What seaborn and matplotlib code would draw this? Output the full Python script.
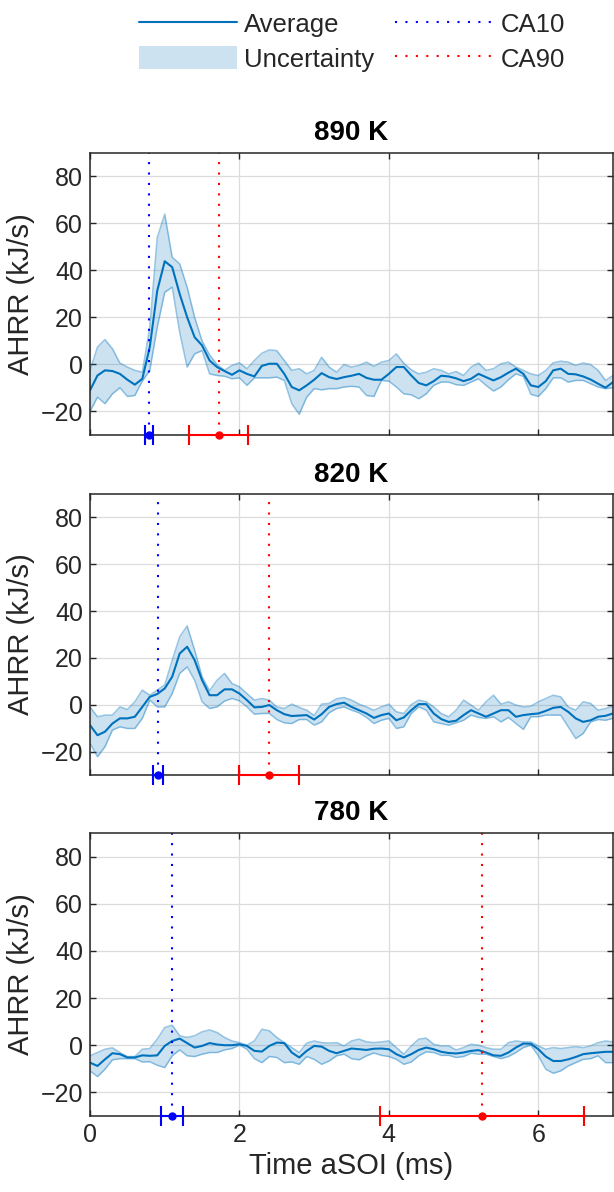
import numpy as np
import matplotlib
matplotlib.use('Agg')
import matplotlib.pyplot as plt
import seaborn as sns
from matplotlib.lines import Line2D
from matplotlib.patches import Patch

# sample times (ms after start of injection)
time_ms = np.round(np.arange(71) * 0.1, 1)

panels = ['890 K', '820 K', '780 K']

avg_890 = [-11.0, -4.7, -2.5, -2.8, -4.0, -6.5, -8.6, -6.1, 7.4, 31.4,
           43.9, 41.4, 30.0, 20.1, 11.6, 8.1, 1.7, -1.1, -2.8, -4.4,
           -2.5, -4.0, -5.1, -0.6, 0.3, 0.3, -4.0, -9.6, -11.0, -8.9,
           -6.5, -3.7, -5.4, -6.2, -5.4, -4.8, -4.0, -5.7, -6.5, -6.5,
           -4.0, -1.1, -1.1, -4.7, -7.9, -8.9, -7.1, -4.8, -5.1, -5.9,
           -7.1, -6.1, -4.0, -5.4, -6.8, -5.4, -3.5, -1.8, -4.0, -8.9,
           -9.6, -7.1, -2.5, -1.8, -4.0, -4.2, -5.1, -6.4, -8.2, -9.9,
           -7.5]
hi_890 = [-2.5, 7.4, 10.6, 6.7, 0.6, -1.1, -2.5, -3.3, 15.9, 54.0,
          64.0, 45.6, 42.8, 32.9, 20.1, 10.0, 4.1, 0.0, -2.5, -0.4,
          0.7, -1.8, 1.7, 4.8, 6.2, 5.9, 1.7, -2.5, -1.8, -4.0,
          -2.5, 3.1, -1.1, -3.3, 0.0, -1.1, -0.4, 1.0, -0.8, 1.0,
          1.7, 4.5, 0.5, -2.3, -4.0, -3.3, -1.8, -2.5, -4.0, -3.0,
          -4.7, -1.1, 0.6, -2.5, -1.8, 0.3, 1.0, -1.1, -2.5, -4.0,
          -4.7, -2.5, 0.7, 1.4, 1.0, -0.4, 0.6, 0.0, -2.5, -6.8,
          -4.7]
lo_890 = [-20.0, -13.9, -16.7, -12.5, -9.9, -13.6, -13.2, -7.1, -2.5, 15.9,
          30.7, 32.9, 13.7, -1.1, 4.5, 5.9, -4.0, -4.7, -5.0, -6.1,
          -5.7, -8.9, -5.7, -5.7, -5.7, -5.4, -6.8, -16.7, -21.2, -13.9,
          -10.3, -10.8, -10.3, -10.3, -9.6, -9.3, -9.6, -13.2, -13.6, -6.8,
          -7.1, -9.6, -12.5, -12.9, -14.6, -12.5, -8.9, -7.5, -7.5, -8.6,
          -8.9, -7.5, -6.1, -8.9, -11.3, -9.6, -6.5, -4.0, -5.1, -12.7,
          -13.6, -10.3, -5.7, -5.7, -7.5, -6.8, -6.8, -8.2, -9.6, -10.3,
          -9.9]

avg_820 = [-8.7, -13.0, -11.5, -8.0, -5.8, -5.8, -5.1, -0.9, 3.4, 4.6,
           7.0, 12.0, 21.9, 24.8, 19.1, 10.5, 4.1, 4.1, 6.6, 6.6,
           4.8, 2.0, -1.1, -0.9, -0.1, -2.3, -4.0, -4.8, -4.6, -4.4,
           -6.3, -4.0, -0.9, 0.3, 0.9, -0.9, -2.3, -3.7, -5.6, -4.4,
           -3.7, -6.6, -5.4, -2.3, 0.3, 0.3, -3.7, -6.1, -7.3, -6.8,
           -4.4, -2.3, -3.7, -5.1, -3.7, -2.3, -2.3, -5.1, -4.4, -4.0,
           -3.7, -2.6, -1.3, -0.9, -3.0, -5.8, -7.3, -6.6, -5.1, -4.7,
           -3.7]
hi_820 = [-0.9, -5.1, -4.4, -4.4, -0.9, -2.0, 1.3, 6.3, 4.1, 6.3,
          8.5, 19.0, 29.0, 33.7, 23.4, 12.0, 6.0, 10.5, 13.4, 9.1,
          7.7, 4.8, 2.0, 2.7, 2.0, -0.9, -1.6, 0.3, -1.1, -2.3,
          -4.6, 0.3, 0.6, 2.6, 3.1, 2.0, 0.3, -0.9, -2.3, -0.9,
          0.3, -3.0, -3.7, 0.1, 2.0, 1.3, -0.9, -3.7, -5.1, -2.3,
          2.0, -0.1, -2.3, 1.3, 4.1, 0.3, 1.3, -0.1, -0.9, -0.6,
          1.3, 2.7, 4.1, 3.4, -0.9, -2.3, 1.3, 0.6, -2.3, -1.6,
          -0.6]
lo_820 = [-16.5, -22.2, -17.9, -10.8, -9.4, -10.1, -10.1, -5.8, 2.0, -0.9,
          -0.9, 4.8, 13.4, 16.2, 10.5, 1.3, -1.6, -0.9, 1.6, 2.7,
          1.7, -0.9, -4.0, -3.7, -3.7, -6.3, -7.7, -8.0, -6.3, -6.3,
          -8.7, -7.3, -3.4, -1.6, -0.9, -2.3, -3.4, -5.4, -8.0, -6.6,
          -5.8, -10.1, -9.4, -3.7, -0.9, -2.3, -7.3, -8.0, -8.7, -7.7,
          -6.6, -4.4, -5.4, -5.8, -5.1, -7.3, -5.4, -8.0, -10.5, -5.1,
          -5.1, -4.4, -4.4, -4.4, -9.4, -14.4, -12.3, -7.3, -6.3, -6.6,
          -5.8]

avg_780 = [-7.4, -8.8, -6.0, -3.4, -3.8, -5.2, -5.2, -4.3, -4.5, -4.3,
           -0.3, 1.8, 2.8, 0.9, -1.0, -0.3, 0.9, 0.3, 0.0, 0.0,
           0.4, -0.3, -2.4, -2.7, -0.3, 1.1, 0.9, -3.1, -5.2, -2.4,
           -0.3, -0.6, -2.4, -3.4, -2.4, -1.4, -1.7, -2.0, -1.5, -1.4,
           -1.7, -3.8, -5.2, -3.8, -2.0, -1.0, -1.7, -2.8, -3.3, -3.5,
           -3.1, -2.4, -2.1, -3.1, -4.3, -4.5, -3.1, -1.0, 0.7, 0.6,
           -1.7, -4.8, -6.7, -6.7, -6.0, -5.0, -3.8, -3.4, -3.1, -2.8,
           -2.8]
hi_780 = [-4.5, -3.1, -1.7, -1.1, -3.1, -4.8, -4.8, -1.7, -1.4, 2.6,
          7.5, 8.5, 4.0, 3.3, 4.0, 5.7, 6.5, 5.4, 3.3, 1.8,
          1.1, 0.0, 1.8, 6.8, 6.1, 3.3, 1.1, -1.0, -3.1, 0.9,
          1.8, 1.1, 0.9, 1.1, -0.3, 1.8, 2.6, 1.4, 1.1, 1.4,
          1.8, -1.0, -3.8, -0.3, 2.6, 3.0, 0.4, -0.3, -0.3, -2.0,
          -1.0, 0.4, 0.0, -1.0, -1.7, -1.7, 1.1, 1.8, 1.4, 1.4,
          -0.3, -1.7, -1.0, -1.4, -1.0, -0.6, -1.0, -0.3, 1.1, 1.8,
          1.4]
lo_780 = [-10.9, -13.3, -10.2, -6.2, -5.7, -5.7, -5.7, -7.1, -7.0, -8.5,
          -9.5, -4.5, -2.0, -4.5, -4.8, -3.8, -3.1, -3.1, -2.0, -1.4,
          0.0, -1.7, -5.7, -7.4, -4.8, -5.2, -7.4, -7.1, -8.1, -4.8,
          -6.0, -8.1, -6.7, -4.5, -3.8, -5.7, -6.2, -4.5, -3.3, -4.3,
          -4.8, -6.0, -8.1, -7.1, -4.5, -2.8, -3.1, -4.3, -4.3, -5.2,
          -4.8, -3.4, -3.8, -3.8, -4.8, -5.7, -4.8, -3.1, -1.0, 0.0,
          -4.5, -10.2, -11.9, -10.9, -8.8, -7.4, -6.0, -5.7, -4.5, -7.4,
          -7.4]

ca10 = [0.79, 0.91, 1.10]
ca10_lo = [0.73, 0.84, 0.95]
ca10_hi = [0.84, 0.98, 1.25]
ca90 = [1.72, 2.39, 5.24]
ca90_lo = [1.32, 1.99, 3.88]
ca90_hi = [2.12, 2.80, 6.61]

series = [(avg_890, lo_890, hi_890), (avg_820, lo_820, hi_820), (avg_780, lo_780, hi_780)]

sns.set_theme(style='ticks')
plt.rcParams['font.family'] = ['Liberation Sans', 'DejaVu Sans']

blue = '#0072BD'
dark = '#262626'
dots = (0, (1, 4))

fig = plt.figure(figsize=(6.14, 11.92), dpi=100)
boxes = [(0.1466, 0.6351, 0.8518, 0.2366),
         (0.1466, 0.3498, 0.8518, 0.2357),
         (0.1466, 0.0638, 0.8518, 0.2374)]

for i, (title, (avg, lo, hi)) in enumerate(zip(panels, series)):
    ax = fig.add_axes(boxes[i])
    ax.fill_between(time_ms, lo, hi, color=blue, alpha=0.2, lw=0)
    sns.lineplot(x=time_ms, y=hi, ax=ax, color=blue, alpha=0.4, lw=1.1)
    sns.lineplot(x=time_ms, y=lo, ax=ax, color=blue, alpha=0.4, lw=1.1)
    sns.lineplot(x=time_ms, y=avg, ax=ax, color=blue, lw=1.5)

    ax.axvline(ca10[i], color='blue', ls=dots, lw=1.5)
    ax.axvline(ca90[i], color='red', ls=dots, lw=1.5)
    for c, lo_c, hi_c, col in [(ca10[i], ca10_lo[i], ca10_hi[i], 'blue'),
                               (ca90[i], ca90_lo[i], ca90_hi[i], 'red')]:
        eb = ax.errorbar([c], [-30], xerr=[[c - lo_c], [hi_c - c]], fmt='o',
                         color=col, ms=5, capsize=7, capthick=1.5,
                         elinewidth=1.5, zorder=6)
        for art in eb.get_children():
            art.set_clip_on(False)

    ax.set_xlim(0, 7)
    ax.set_ylim(-30, 90)
    ax.set_xticks([0, 2, 4, 6])
    ax.set_yticks(range(-20, 81, 20))
    ax.grid(True, color='#dcdcdc', lw=0.9)
    ax.set_axisbelow(True)
    ax.tick_params(direction='in', top=True, right=True, length=4.5, width=1.0,
                   colors=dark, labelsize=18, pad=5)
    for sp in ax.spines.values():
        sp.set_color(dark)
        sp.set_linewidth(1.1)
    ax.set_ylabel('AHRR (kJ/s)', fontsize=21, color=dark)
    ax.set_title(title, fontsize=20, fontweight='bold', color='black', pad=9)
    if i < 2:
        ax.set_xticklabels([])
        ax.set_xlabel('')
    else:
        ax.set_xlabel('Time aSOI (ms)', fontsize=21, color=dark)

handles = [Line2D([], [], color=blue, lw=1.5),
           Patch(facecolor=blue, alpha=0.2, lw=0),
           Line2D([], [], color='blue', ls=dots, lw=1.5),
           Line2D([], [], color='red', ls=dots, lw=1.5)]
labels = ['Average', 'Uncertainty', 'CA10', 'CA90']
fig.legend(handles, labels, ncol=2, loc='center', bbox_to_anchor=(0.573, 0.965),
           frameon=False, fontsize=18.5, handlelength=3.8, handleheight=1.0,
           handletextpad=0.3, columnspacing=0.8, labelspacing=0.35)

fig.savefig('out.png', dpi=100)
